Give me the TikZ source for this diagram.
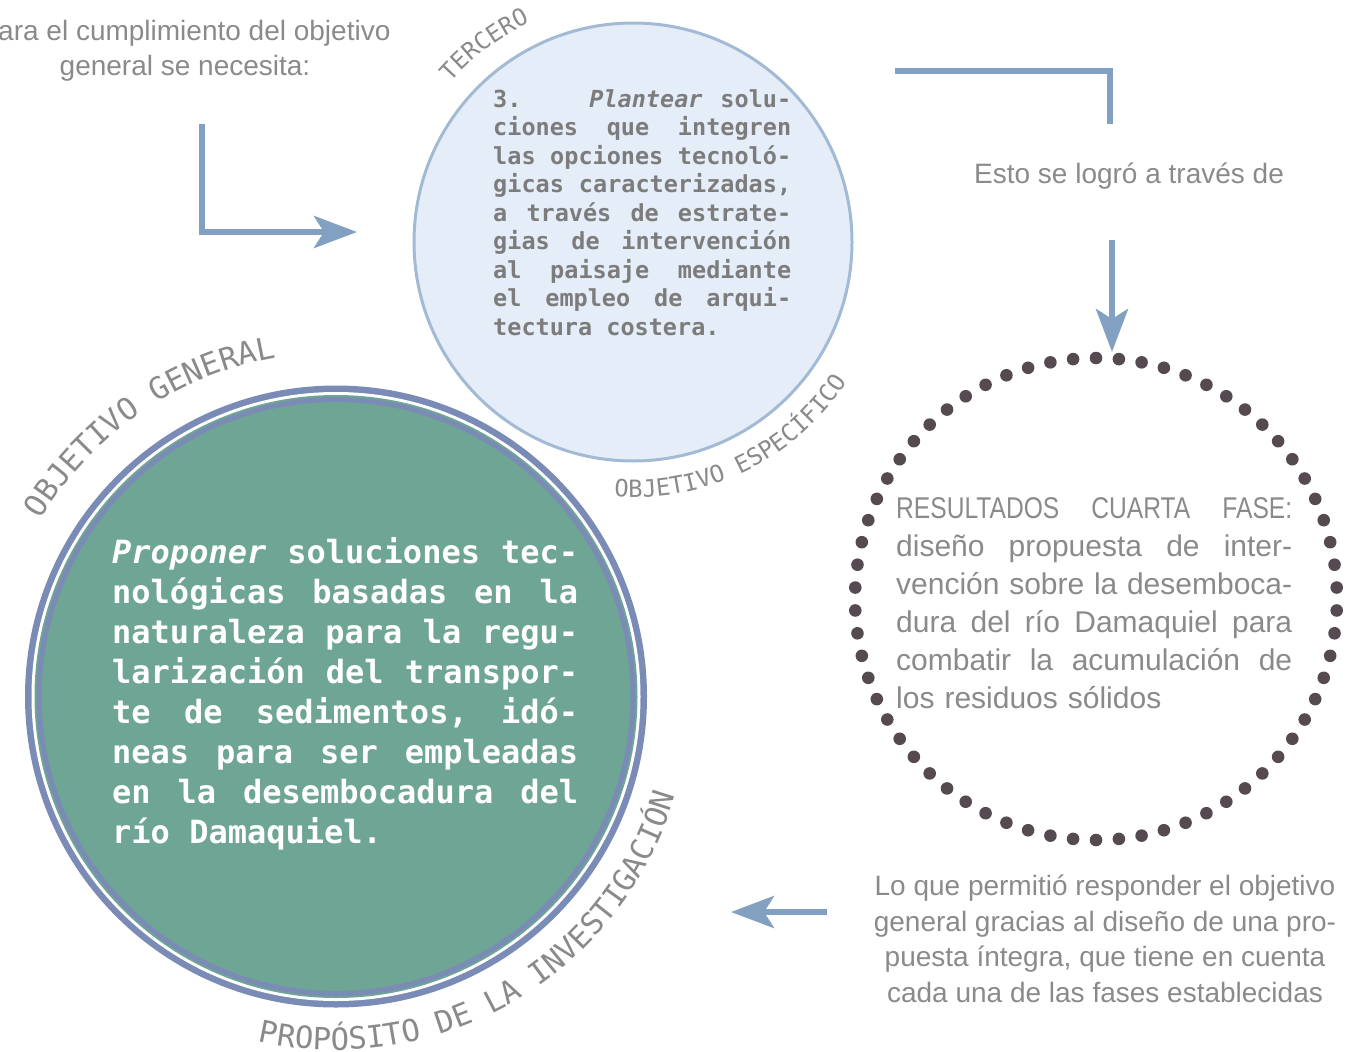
\documentclass[tikz,border=0pt]{standalone}
\usepackage{fontspec}
\setmainfont{Liberation Sans}
\newfontfamily\monofont{DejaVu Sans Mono}
\newfontfamily\capsfont{Liberation Sans}[FakeStretch=0.82]
\usepackage{tikz}
\usetikzlibrary{arrows.meta, decorations.text, positioning, calc}

\definecolor{flechaazul}{HTML}{82A0C2}
\definecolor{textogris}{HTML}{8A8A8A}
\definecolor{monogris}{HTML}{7C7C7C}
\definecolor{verdegen}{HTML}{6EA594}
\definecolor{anillogen}{HTML}{7A8BB6}
\definecolor{fondoesp}{HTML}{E4EDF8}
\definecolor{bordeesp}{HTML}{A3BAD4}
\definecolor{puntos}{HTML}{554A50}

% linea justificada
\newcommand{\jl}[1]{\par\hbox to \hsize{\frenchspacing\spaceskip=\fontdimen2\font plus 1fil minus 2pt\relax #1}}
% ultima linea, espacio de una letra
\newcommand{\ul}[1]{\par\hbox{\frenchspacing\spaceskip=0.602em\relax #1}}
% etiquetas curvas
\newcommand{\etiqchica}{\monofont\fontsize{23.8}{28}\selectfont}
\newcommand{\etiqgrande}{\monofont\fontsize{30.6}{36}\selectfont}

\begin{document}
\begin{tikzpicture}[x=1pt, y=1pt,
    flecha/.style={draw=flechaazul, line width=6pt, -{Stealth[length=43pt, width=32pt, inset=10pt]}},
    guia/.style={draw=flechaazul, line width=5.5pt},
    texto/.style={inner sep=0pt, text=textogris, font=\fontsize{28}{35.5}\selectfont},
    curva/.style={decorate, decoration={text along path, text align=center, text color=textogris, text={#1}}}
]
    \useasboundingbox (0,0) rectangle (1368,-1052);

    % Objetivo especifico
    \node[circle, minimum size=438pt, inner sep=0pt, fill=fondoesp, draw=bordeesp, line width=3pt] (esp) at (633,-242) {};
    \node[anchor=base west, text width=298pt, inner sep=0pt, text=monogris, font=\monofont\bfseries\fontsize{23.5}{28.5}\selectfont] (txtesp) at (493,-78.5) {%
        \jl{3.\kern50pt\ \textit{Plantear} solu-}
        \jl{ciones que integren}
        \jl{las opciones tecnoló-}
        \jl{gicas caracterizadas,}
        \jl{a través de estrate-}
        \jl{gias de intervención}
        \jl{al paisaje mediante}
        \jl{el empleo de arqui-}
        \ul{tectura costera.}};
    \path[curva={|\etiqchica|TERCERO}] ([shift={(esp.center)}]165:242.5) arc[start angle=165, end angle=89, radius=242.5];
    \path[curva={|\etiqchica|OBJETIVO ESPECÍFICO}] ([shift={(esp.center)}]240:255.5) arc[start angle=240, end angle=352.6, radius=255.5];

    % Objetivo general
    \coordinate (gen) at (336,-696.5);
    \fill[anillogen] (gen) circle[radius=311];
    \fill[white] (gen) circle[radius=304.5];
    \fill[verdegen] (gen) circle[radius=301.5];
    \draw[anillogen, line width=5pt] (gen) circle[radius=297];
    \node[anchor=base west, text width=466pt, inner sep=0pt, text=white, font=\monofont\bfseries\fontsize{32}{40}\selectfont] (txtgen) at (112,-523) {%
        \jl{\textit{Proponer} soluciones tec-}
        \jl{nológicas basadas en la}
        \jl{naturaleza para la regu-}
        \jl{larización del transpor-}
        \jl{te de sedimentos, idó-}
        \jl{neas para ser empleadas}
        \jl{en la desembocadura del}
        \ul{río Damaquiel.}};
    \path[curva={|\etiqgrande|OBJETIVO GENERAL}] ([shift={(gen)}]175:344) arc[start angle=175, end angle=74, radius=344];
    \path[curva={|\etiqgrande|PROPÓSITO DE LA INVESTIGACIÓN}] ([shift={(gen)}]241.5:353.5) arc[start angle=241.5, end angle=359.5, radius=353.5];

    % Resultados
    \coordinate (res) at (1096,-599);
    \foreach \k in {0,...,65}
        \fill[puntos] ([shift={(res)}]90+\k*5.454545:241) circle[radius=6.3pt];
    \node[anchor=base west, text width=396pt, inner sep=0pt, text=textogris, font=\fontsize{30}{38}\selectfont] (txtres) at (896,-480) {%
        \jl{\capsfont RESULTADOS CUARTA FASE:}
        \jl{diseño propuesta de inter-}
        \jl{vención sobre la desemboca-}
        \jl{dura del río Damaquiel para}
        \jl{combatir la acumulación de}
        \par\hbox{los residuos sólidos}};

    % Textos
    \node[texto, align=center, anchor=north] (intro) at (185,-20) {Para el cumplimiento del objetivo\\general se necesita:};
    \node[texto, anchor=base] (logro) at (1129,-183) {Esto se logró a través de};
    \node[texto, align=center, anchor=north] (cierre) at (1105,-875) {Lo que permitió responder el objetivo\\general gracias al diseño de una pro-\\puesta íntegra, que tiene en cuenta\\cada una de las fases establecidas};

    % Flechas
    \coordinate (c1) at (202,-124);
    \coordinate (c1b) at (202,-232);
    \coordinate (c1f) at (357,-232);
    \draw[flecha] (c1) -- (c1b) -- (c1f);
    \coordinate (c2) at (895,-71);
    \coordinate (c2b) at (1110,-71);
    \coordinate (c2f) at (1110,-124);
    \draw[guia] (c2) -- (c2b) -- (c2f);
    \coordinate (c3) at (1112,-240);
    \coordinate (c3f) at (1112,-352);
    \draw[flecha] (c3) -- (c3f);
    \coordinate (c4) at (827,-912);
    \coordinate (c4f) at (731,-912);
    \draw[flecha] (c4) -- (c4f);
\end{tikzpicture}
\end{document}
